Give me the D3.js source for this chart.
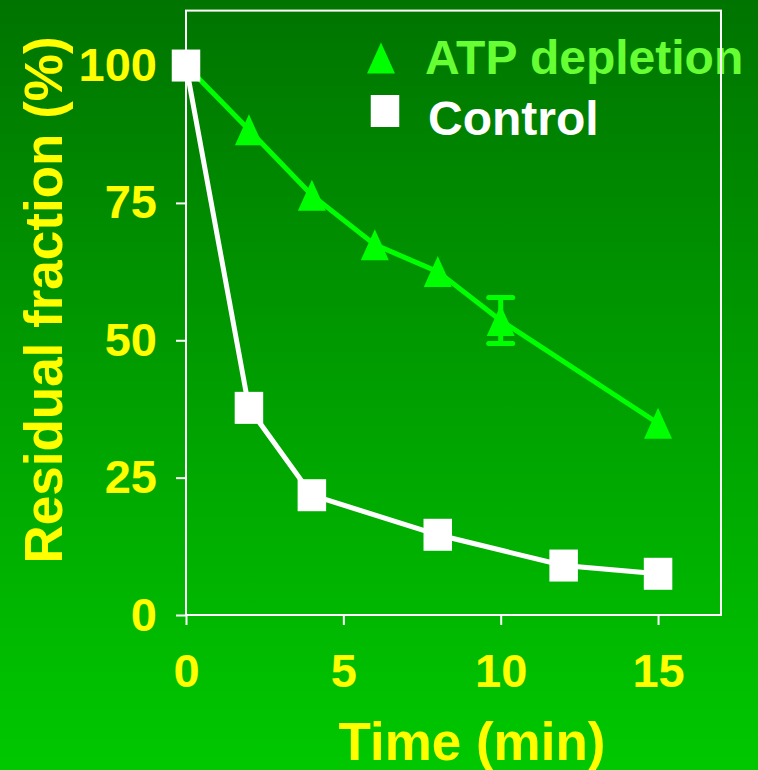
<!DOCTYPE html>
<html>
<head>
<meta charset="utf-8">
<script src="https://cdn.jsdelivr.net/npm/d3@7"></script>
<style>
  html, body { margin: 0; padding: 0; background: #00a000; }
  svg { display: block; }
  text { font-family: "Liberation Sans", Arial, sans-serif; font-weight: bold; }
</style>
</head>
<body>
<svg id="chart" width="758" height="770"></svg>
<script>
// Residual fraction over time, with and without ATP depletion
const atpTimes   = [0, 2, 4, 6, 8, 10, 15];
const atpValues  = [100, 88.3, 76.4, 67.4, 62.5, 53.6, 34.9];
const atpErrors  = [null, null, null, null, null, 4.2, null];

const ctrlTimes  = [0, 2, 4, 8, 12, 15];
const ctrlValues = [100, 37.7, 21.8, 14.6, 9.0, 7.5];

const xTicks = [0, 5, 10, 15];
const yTicks = [0, 25, 50, 75, 100];

const seriesNames = ["ATP depletion", "Control"];
const xTitle = "Time (min)";
const yTitle = "Residual fraction (%)";

const W = 758, H = 770;
const plot = { left: 186, right: 722, top: 10.6, bottom: 615 };

const svg = d3.select("#chart");

// background gradient, dark green at top to bright green at bottom
const defs = svg.append("defs");
const grad = defs.append("linearGradient")
  .attr("id", "bg").attr("x1", 0).attr("y1", 0).attr("x2", 0).attr("y2", 1);
grad.append("stop").attr("offset", "0%").attr("stop-color", "#007400");
grad.append("stop").attr("offset", "100%").attr("stop-color", "#00c800");
svg.append("rect").attr("width", W).attr("height", H).attr("fill", "url(#bg)");

const x = d3.scaleLinear().domain([0, 17]).range([plot.left, plot.left + 17 * 31.47]);
const y = d3.scaleLinear().domain([0, 110]).range([plot.bottom, plot.top]);

const tickFont = "47px";

// y axis
const yAxis = svg.append("g")
  .attr("transform", `translate(${plot.left},0)`)
  .call(d3.axisLeft(y).tickValues(yTicks).tickSize(10).tickPadding(19));
yAxis.select(".domain").remove();
yAxis.selectAll(".tick line").attr("stroke", "#fff").attr("stroke-width", 2);
yAxis.selectAll(".tick text")
  .attr("fill", "#ffff00").style("font-size", tickFont)
  .style("font-family", "'Liberation Sans', Arial, sans-serif").style("font-weight", "bold");

// x axis
const xAxis = svg.append("g")
  .attr("transform", `translate(0,${plot.bottom})`)
  .call(d3.axisBottom(x).tickValues(xTicks).tickSize(10).tickPadding(29));
xAxis.select(".domain").remove();
xAxis.selectAll(".tick line").attr("stroke", "#fff").attr("stroke-width", 2);
xAxis.selectAll(".tick text")
  .attr("fill", "#ffff00").style("font-size", tickFont)
  .style("font-family", "'Liberation Sans', Arial, sans-serif").style("font-weight", "bold");

// axis titles
svg.append("text")
  .attr("x", 472).attr("y", 760)
  .attr("text-anchor", "middle")
  .attr("fill", "#ffff00").style("font-size", "53px")
  .text(xTitle);

svg.append("text")
  .attr("transform", "translate(62,300) rotate(-90)")
  .attr("text-anchor", "middle")
  .attr("fill", "#ffff00").style("font-size", "53px")
  .text(yTitle);

const triW = 14, triH = 15.5;
const triPath = (cx, cy) =>
  `M${cx},${cy - triH}L${cx + triW},${cy + triH}L${cx - triW},${cy + triH}Z`;
const sqW = 28.5, sqH = 32;

const line = d3.line().x(d => x(d[0])).y(d => y(d[1]));

// ATP depletion series
const atpData = atpTimes.map((t, i) => [t, atpValues[i], atpErrors[i]]);
svg.append("path")
  .datum(atpData)
  .attr("d", line)
  .attr("fill", "none")
  .attr("stroke", "#00ff00")
  .attr("stroke-width", 5);

svg.append("g").selectAll("path")
  .data(atpData)
  .join("path")
  .attr("d", d => triPath(x(d[0]), y(d[1])))
  .attr("fill", "#00ff00");

// error bars
const errG = svg.append("g")
  .attr("stroke", "#00ff00").attr("stroke-width", 5).attr("stroke-linecap", "round");
atpData.filter(d => d[2] != null).forEach(d => {
  const cx = x(d[0]);
  const yt = y(d[1] + d[2]), yb = y(d[1] - d[2]);
  errG.append("line").attr("x1", cx).attr("x2", cx).attr("y1", yt).attr("y2", yb);
  errG.append("line").attr("x1", cx - 12).attr("x2", cx + 12).attr("y1", yt).attr("y2", yt);
  errG.append("line").attr("x1", cx - 12).attr("x2", cx + 12).attr("y1", yb).attr("y2", yb);
});

// Control series
const ctrlData = ctrlTimes.map((t, i) => [t, ctrlValues[i]]);
svg.append("path")
  .datum(ctrlData)
  .attr("d", line)
  .attr("fill", "none")
  .attr("stroke", "#ffffff")
  .attr("stroke-width", 5);

svg.append("g").selectAll("rect")
  .data(ctrlData)
  .join("rect")
  .attr("x", d => x(d[0]) - sqW / 2)
  .attr("y", d => y(d[1]) - sqH / 2)
  .attr("width", sqW)
  .attr("height", sqH)
  .attr("fill", "#ffffff");

// legend
const legend = svg.append("g");
legend.append("path").attr("d", triPath(381, 58)).attr("fill", "#00ff00");
legend.append("text").attr("x", 425).attr("y", 74)
  .attr("fill", "#66ff33").style("font-size", "48px").text(seriesNames[0]);
legend.append("rect")
  .attr("x", 385 - sqW / 2).attr("y", 111 - sqH / 2)
  .attr("width", sqW).attr("height", sqH).attr("fill", "#ffffff");
legend.append("text").attr("x", 428).attr("y", 135)
  .attr("fill", "#ffffff").style("font-size", "48px").text(seriesNames[1]);

// plot frame
svg.append("rect")
  .attr("x", plot.left).attr("y", plot.top)
  .attr("width", x(17) - plot.left).attr("height", plot.bottom - plot.top)
  .attr("fill", "none")
  .attr("stroke", "#ffffff")
  .attr("stroke-width", 2);
</script>
</body>
</html>
